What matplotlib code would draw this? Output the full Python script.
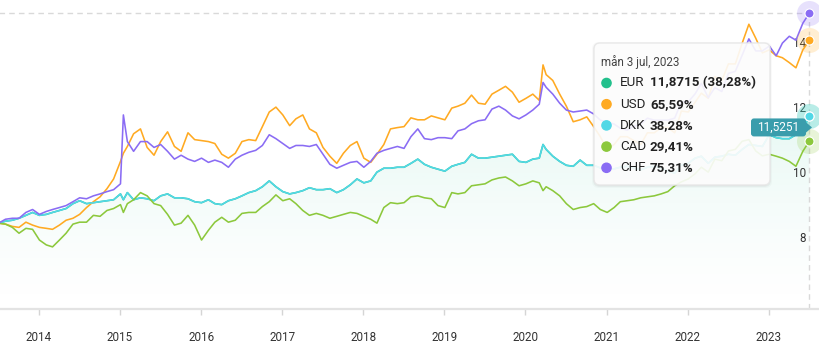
import matplotlib
matplotlib.use("Agg")
import matplotlib.pyplot as plt
import matplotlib.dates as mdates
from matplotlib.patches import FancyBboxPatch, Polygon, Circle
from matplotlib.transforms import Affine2D, ScaledTranslation
import numpy as np
import pandas as pd

plt.rcParams['font.family'] = ['Roboto', 'DejaVu Sans']

W, H = 820, 347

# ---- data: monthly closes (rebased to EUR/SEK at start), plus two intra-month extremes
month_dates = pd.date_range("2013-07-03", "2023-07-03", freq=pd.DateOffset(months=1))
extra_dates = pd.to_datetime(["2015-01-16", "2020-03-20"])
dates = month_dates.append(extra_dates).sort_values()

usd = [8.58, 8.55, 8.48, 8.45, 8.61, 8.52, 8.45, 8.42, 8.39, 8.52,
       8.67, 8.73, 8.85, 9.06, 9.24, 9.39, 9.64, 9.94, 10.48, 10.73,
       10.94, 11.33, 11.48, 10.91, 10.67, 11.09, 11.39, 10.94, 10.79, 11.36,
       11.15, 11.12, 11.09, 11.03, 10.70, 10.58, 10.73, 11.09, 11.15, 11.12,
       11.55, 12.00, 12.15, 11.91, 11.58, 11.79, 11.91, 11.48, 11.36, 10.91,
       10.64, 10.42, 10.73, 10.97, 11.09, 10.58, 10.45, 10.70, 11.00, 11.48,
       11.52, 11.55, 11.82, 11.76, 11.76, 11.88, 11.82, 11.76, 12.12, 12.18,
       12.27, 12.52, 12.27, 12.24, 12.55, 12.67, 12.79, 12.61, 12.30, 12.42,
       12.55, 12.36, 13.45, 13.15, 12.97, 12.55, 12.18, 11.70, 11.76, 11.85,
       11.55, 11.24, 10.85, 11.00, 11.24, 11.24, 11.12, 11.00, 11.36, 11.36,
       11.52, 11.52, 11.36, 12.03, 12.00, 12.30, 12.58, 12.42, 13.09, 12.97,
       13.48, 13.48, 14.12, 14.70, 14.27, 13.82, 13.91, 13.73, 13.67, 13.52,
       13.36, 13.91, 14.21]

chf = [8.58, 8.70, 8.73, 8.73, 8.91, 9.00, 8.85, 8.94, 9.00, 9.06,
       9.12, 9.24, 9.36, 9.33, 9.42, 9.48, 9.55, 9.61, 9.79, 11.91,
       11.09, 10.79, 11.09, 11.09, 10.91, 11.00, 10.79, 10.55, 10.67, 10.55,
       10.48, 10.58, 10.45, 10.52, 10.45, 10.30, 10.55, 10.67, 10.76, 10.82,
       10.97, 11.30, 11.18, 11.03, 10.88, 10.97, 10.97, 10.94, 11.00, 10.70,
       10.39, 10.27, 10.36, 10.45, 10.48, 10.30, 10.48, 10.73, 10.82, 10.88,
       10.94, 10.88, 11.24, 11.48, 11.18, 11.15, 11.21, 11.21, 11.18, 11.42,
       11.48, 11.64, 11.73, 11.76, 12.09, 12.18, 12.06, 11.88, 11.79, 11.91,
       12.06, 12.24, 12.91, 12.76, 12.55, 12.27, 12.06, 12.00, 12.03, 12.06,
       11.94, 11.75, 11.69, 11.63, 11.50, 11.44, 11.56, 11.63, 11.81, 11.75,
       11.75, 11.75, 11.81, 12.31, 12.31, 12.56, 12.88, 12.44, 12.75, 12.63,
       13.19, 13.25, 13.75, 14.25, 13.88, 13.88, 14.03, 13.73, 14.12, 14.33,
       14.21, 14.73, 15.05]

# EUR/SEK; DKK is pegged to EUR so its rebased line runs on top of it
eur = [8.58, 8.64, 8.67, 8.73, 8.82, 8.91, 8.82, 8.85, 8.91, 8.97,
       9.03, 9.18, 9.27, 9.18, 9.21, 9.24, 9.27, 9.30, 9.48, 9.30,
       9.52, 9.30, 9.36, 9.33, 9.27, 9.42, 9.48, 9.36, 9.36, 9.33,
       9.24, 9.21, 9.30, 9.18, 9.15, 9.27, 9.33, 9.42, 9.52, 9.58,
       9.70, 9.88, 9.70, 9.55, 9.48, 9.52, 9.58, 9.67, 9.61, 9.61,
       9.64, 9.52, 9.61, 9.76, 9.94, 9.82, 9.88, 10.15, 10.27, 10.27,
       10.30, 10.30, 10.42, 10.55, 10.39, 10.30, 10.24, 10.18, 10.33, 10.39,
       10.45, 10.70, 10.58, 10.58, 10.61, 10.64, 10.67, 10.70, 10.48, 10.45,
       10.55, 10.58, 11.00, 10.85, 10.64, 10.48, 10.36, 10.33, 10.52, 10.36,
       10.36, 10.28, 10.22, 10.25, 10.30, 10.33, 10.28, 10.22, 10.30, 10.33,
       10.27, 10.18, 10.12, 10.37, 10.42, 10.58, 10.64, 10.42, 10.61, 10.64,
       10.70, 10.67, 10.85, 11.00, 10.97, 10.94, 11.30, 11.21, 11.18, 11.18,
       11.30, 11.48, 11.87]
dkk = eur

cad = [8.58, 8.55, 8.45, 8.27, 8.42, 8.39, 8.06, 7.91, 7.85, 8.06,
       8.27, 8.55, 8.61, 8.61, 8.82, 8.79, 8.97, 9.03, 9.15, 8.91,
       9.18, 9.30, 9.52, 9.42, 9.18, 9.12, 8.85, 8.52, 8.58, 8.82,
       8.52, 8.06, 8.36, 8.61, 8.76, 8.61, 8.67, 8.88, 8.91, 8.91,
       9.09, 9.24, 9.45, 9.27, 9.33, 9.18, 8.97, 8.82, 8.88, 8.82,
       8.73, 8.79, 8.85, 8.91, 8.88, 8.79, 8.70, 8.58, 9.06, 9.21,
       9.18, 9.21, 9.39, 9.42, 9.36, 9.33, 9.12, 9.06, 9.52, 9.48,
       9.52, 9.73, 9.76, 9.79, 9.91, 9.97, 10.00, 9.88, 9.73, 9.79,
       9.88, 9.82, 9.58, 9.70, 9.58, 9.42, 9.18, 9.00, 9.06, 9.09,
       9.18, 9.00, 8.91, 9.06, 9.24, 9.27, 9.30, 9.36, 9.39, 9.42,
       9.48, 9.55, 9.73, 9.85, 9.94, 10.10, 10.30, 10.15, 10.55, 10.50,
       10.80, 10.85, 11.10, 11.15, 10.80, 10.65, 10.70, 10.64, 10.58, 10.48,
       10.33, 10.79, 11.11]

last_price = 11.5251
year_ticks = [str(y) for y in range(2014, 2024)]
y_ticks = [8, 10, 12, 14]

tooltip_date = "mån 3 jul, 2023"
tooltip_rows = [("EUR", "11,8715 (38,28%)"), ("USD", "65,59%"), ("DKK", "38,28%"),
                ("CAD", "29,41%"), ("CHF", "75,31%")]

C_EUR = "#22c08c"
C_USD = "#ffaa22"
C_DKK = "#52d8e6"
C_CAD = "#8cc83c"
C_CHF = "#8a6cf4"
C_FLAG = "#3a9dac"
row_colors = [C_EUR, C_USD, C_DKK, C_CAD, C_CHF]

# ---- figure / axes
fig = plt.figure(figsize=(W / 100, H / 100), dpi=100)
ax_top, ax_bot = 13, 309
ax = fig.add_axes([0, 1 - ax_bot / H, 1, (ax_bot - ax_top) / H])

x = mdates.date2num(dates)
px_per_year = 81.1
x_left = mdates.date2num(pd.Timestamp("2014-01-01")) - 39 / px_per_year * 365.25
x_right = x_left + W / px_per_year * 365.25
ax.set_xlim(x_left, x_right)
ybot, ytop = 8 - (ax_bot - 242) / 32.5, 8 + (242 - ax_top) / 32.5
ax.set_ylim(ybot, ytop)

for s in ["top", "left", "right"]:
    ax.spines[s].set_visible(False)
ax.spines["bottom"].set_color("#e3e3e3")
ax.spines["bottom"].set_linewidth(1.6)

# gradient area under the EUR line
verts = list(zip(x, eur)) + [(x[-1], ybot), (x[0], ybot)]
clip = Polygon(verts, closed=True, facecolor="none", edgecolor="none", transform=ax.transData)
ax.add_patch(clip)
g = np.linspace(1, 0, 256) ** 1.3
rgba = np.zeros((256, 1, 4))
rgba[..., :3] = matplotlib.colors.to_rgb("#2cc39a")
rgba[:, 0, 3] = 0.12 * g
im = ax.imshow(rgba, extent=[x[0], x[-1], ybot, 12.2], aspect="auto", origin="upper",
               zorder=1, interpolation="bilinear")
im.set_clip_path(clip)

lw = 1.15
ax.plot(x, eur, color=C_EUR, lw=lw, zorder=2)
ax.plot(x, usd, color=C_USD, lw=lw, zorder=3)
ax.plot(x, dkk, color=C_DKK, lw=lw, zorder=4)
ax.plot(x, cad, color=C_CAD, lw=lw, zorder=5)
ax.plot(x, chf, color=C_CHF, lw=lw, zorder=6)

# crosshair
ax.plot([x[0], x[-1]], [ytop, ytop], color="#d9d9d9", lw=1, ls=(0, (4, 3)), clip_on=False, zorder=1)
ax.axvline(x[-1], color="#d9d9d9", lw=1, ls=(0, (4, 3)), zorder=1)

# x ticks
ax.set_xticks([mdates.date2num(pd.Timestamp(f"{y}-01-01")) for y in year_ticks])
ax.set_xticklabels(year_ticks)
ax.tick_params(axis="x", length=4, width=1, color="#d5d5d5", pad=12, labelsize=8.4, labelcolor="#333333")

# y labels inside on the right, sitting just above their value
ax.yaxis.tick_right()
ax.set_yticks(y_ticks)
ax.set_yticklabels([str(v) for v in y_ticks])
ax.tick_params(axis="y", length=0, pad=-10, labelsize=8.4, labelcolor="#333333")
for lab in ax.get_yticklabels():
    lab.set_horizontalalignment("right")
    lab.set_transform(lab.get_transform() + ScaledTranslation(0, 5 / 100, fig.dpi_scale_trans))

# end-point markers with halo
for vals, col in [(eur, C_EUR), (usd, C_USD), (dkk, C_DKK), (cad, C_CAD), (chf, C_CHF)]:
    ax.plot([x[-1]], [vals[-1]], "o", ms=18, color=col, alpha=0.2, mec="none", clip_on=False, zorder=7)
    ax.plot([x[-1]], [vals[-1]], "o", ms=6.5, color=col, mec="white", mew=0.8, clip_on=False, zorder=8)

# pixel transform with origin at top-left
pix = Affine2D().scale(1, -1).translate(0, H)

# tooltip with a soft shadow
for k, a in [(3, 0.025), (2, 0.035), (1, 0.045)]:
    fig.patches.append(FancyBboxPatch((594 - k + 1, 43 - k + 2), 176 + 2 * k - 2, 142 + 2 * k - 2,
                                      boxstyle="round,pad=0,rounding_size=7", transform=pix,
                                      facecolor="black", alpha=a, edgecolor="none", zorder=9))
tip = FancyBboxPatch((594, 43), 176, 142, boxstyle="round,pad=0,rounding_size=6",
                     transform=pix, facecolor="white", alpha=0.9, edgecolor="none", zorder=10)
fig.patches.append(tip)
tip_edge = FancyBboxPatch((594, 43), 176, 142, boxstyle="round,pad=0,rounding_size=6",
                          transform=pix, facecolor="none", edgecolor="#e8e8e8", lw=1, zorder=11)
fig.patches.append(tip_edge)
fig.text(601, 62, tooltip_date, transform=pix, fontsize=8.4, color="#444444", va="center", zorder=12)
for i, ((name, val), col) in enumerate(zip(tooltip_rows, row_colors)):
    yy = 83 + i * 21.2
    fig.patches.append(Circle((606.5, yy), 4.6, transform=pix, color=col, zorder=12))
    fig.text(620, yy, name, transform=pix, fontsize=9.6, color="#222222", va="center", zorder=12)
    fig.text(650, yy, val, transform=pix, fontsize=9.6, color="#222222", va="center",
             fontweight="bold", zorder=12)

# last-price flag, placed at its value on the y scale
fig.canvas.draw()
yflag = H - ax.transData.transform((x[-1], last_price))[1]
flag = FancyBboxPatch((751, yflag - 9), 55, 18, boxstyle="round,pad=0,rounding_size=3",
                      transform=pix, facecolor=C_FLAG, edgecolor="none", zorder=13)
fig.patches.append(flag)
fig.patches.append(Polygon([(805, yflag - 6), (812, yflag), (805, yflag + 6)], closed=True,
                           transform=pix, facecolor=C_FLAG, edgecolor="none", zorder=13))
fig.text(778.5, yflag, f"{last_price:.4f}".replace(".", ","), transform=pix, fontsize=8.6,
         color="white", ha="center", va="center", zorder=14)

fig.savefig("out.png", dpi=100)
